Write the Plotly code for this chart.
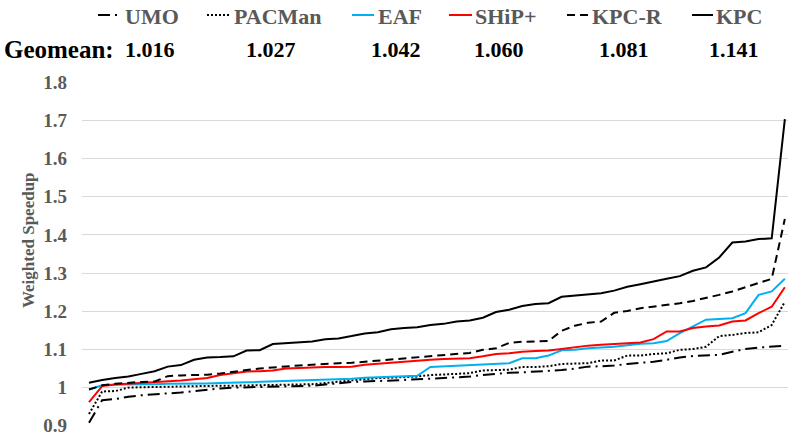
import plotly.graph_objects as go

# 54 workloads, each policy's speedups sorted in ascending order
workloads = list(range(54))

umo = [0.908, 0.967, 0.970, 0.976, 0.980, 0.983, 0.985, 0.987, 0.991, 0.995,
       0.998, 1.000, 1.001, 1.002, 1.003, 1.003, 1.004, 1.005, 1.008, 1.012,
       1.015, 1.016, 1.017, 1.018, 1.020, 1.022, 1.023, 1.025, 1.027, 1.029,
       1.033, 1.036, 1.039, 1.040, 1.042, 1.045, 1.046, 1.050, 1.055, 1.056,
       1.058, 1.062, 1.065, 1.068, 1.073, 1.079, 1.083, 1.084, 1.086, 1.094,
       1.101, 1.105, 1.107, 1.110]

pacman = [0.931, 0.990, 0.991, 1.000, 1.001, 1.002, 1.002, 1.003, 1.003, 1.004,
          1.005, 1.005, 1.006, 1.007, 1.007, 1.008, 1.008, 1.009, 1.012, 1.016,
          1.019, 1.022, 1.025, 1.026, 1.028, 1.029, 1.033, 1.034, 1.036, 1.038,
          1.045, 1.046, 1.047, 1.054, 1.054, 1.056, 1.062, 1.063, 1.064, 1.071,
          1.071, 1.084, 1.084, 1.088, 1.090, 1.099, 1.101, 1.107, 1.135, 1.138,
          1.143, 1.145, 1.164, 1.225]

eaf = [0.995, 1.006, 1.008, 1.008, 1.009, 1.009, 1.010, 1.010, 1.011, 1.011,
       1.012, 1.013, 1.014, 1.015, 1.016, 1.018, 1.019, 1.020, 1.021, 1.022,
       1.023, 1.026, 1.027, 1.028, 1.029, 1.031, 1.054, 1.056, 1.057, 1.059,
       1.060, 1.062, 1.064, 1.077, 1.077, 1.084, 1.098, 1.099, 1.103, 1.105,
       1.107, 1.111, 1.115, 1.116, 1.122, 1.143, 1.160, 1.178, 1.180, 1.182,
       1.195, 1.243, 1.252, 1.285]

ship_plus = [0.962, 1.004, 1.008, 1.010, 1.012, 1.014, 1.016, 1.019, 1.022, 1.025,
             1.033, 1.037, 1.042, 1.043, 1.045, 1.050, 1.052, 1.053, 1.054, 1.054,
             1.055, 1.060, 1.063, 1.066, 1.069, 1.071, 1.073, 1.075, 1.076, 1.077,
             1.082, 1.088, 1.090, 1.094, 1.096, 1.097, 1.101, 1.105, 1.110, 1.112,
             1.114, 1.116, 1.118, 1.127, 1.147, 1.147, 1.156, 1.160, 1.163, 1.173,
             1.176, 1.195, 1.212, 1.263]

kpc_r = [0.995, 1.006, 1.010, 1.013, 1.015, 1.016, 1.030, 1.032, 1.033, 1.034,
         1.037, 1.042, 1.046, 1.050, 1.053, 1.055, 1.058, 1.060, 1.063, 1.064,
         1.065, 1.068, 1.071, 1.075, 1.078, 1.080, 1.083, 1.086, 1.088, 1.091,
         1.099, 1.103, 1.117, 1.120, 1.121, 1.122, 1.149, 1.162, 1.170, 1.173,
         1.196, 1.201, 1.208, 1.212, 1.217, 1.221, 1.227, 1.236, 1.243, 1.252,
         1.263, 1.272, 1.285, 1.442]

kpc = [1.013, 1.020, 1.025, 1.029, 1.036, 1.043, 1.055, 1.059, 1.073, 1.079,
       1.080, 1.082, 1.097, 1.098, 1.114, 1.117, 1.119, 1.121, 1.127, 1.129,
       1.135, 1.142, 1.145, 1.153, 1.156, 1.158, 1.164, 1.167, 1.173, 1.176,
       1.183, 1.198, 1.204, 1.214, 1.219, 1.221, 1.238, 1.241, 1.245, 1.247,
       1.254, 1.264, 1.271, 1.277, 1.285, 1.292, 1.306, 1.315, 1.341, 1.380,
       1.383, 1.389, 1.391, 1.703]

series_names = ["UMO", "PACMan", "EAF", "SHiP+", "KPC-R", "KPC"]
geomeans = ["1.016", "1.027", "1.042", "1.060", "1.081", "1.141"]

y_tick_vals = [0.9, 1.0, 1.1, 1.2, 1.3, 1.4, 1.5, 1.6, 1.7, 1.8]
y_tick_text = ["0.9", "1", "1.1", "1.2", "1.3", "1.4", "1.5", "1.6", "1.7", "1.8"]

# ---- styling ----
W, H = 788, 438
M_L, M_R, M_T, M_B = 82, 0, 82, 12
PLOT_W = W - M_L - M_R
PLOT_H = H - M_T - M_B
SERIF = "Liberation Serif, Times New Roman, serif"
GRAY_TEXT = "#595959"

styles = [
    dict(color="black", width=2, dash="12px,5px,2px,5px"),   # UMO
    dict(color="black", width=2, dash="2px,2px"),            # PACMan
    dict(color="#00B0F0", width=2, dash="solid"),            # EAF
    dict(color="#FF0000", width=2, dash="solid"),            # SHiP+
    dict(color="black", width=2, dash="8px,5px"),            # KPC-R
    dict(color="black", width=2, dash="solid"),              # KPC
]

all_series = [umo, pacman, eaf, ship_plus, kpc_r, kpc]

fig = go.Figure()
for name, ys, st in zip(series_names, all_series, styles):
    fig.add_trace(go.Scatter(x=workloads, y=ys, mode="lines", name=name,
                             line=st, showlegend=False))


def px_x(px):
    return (px - M_L) / PLOT_W


def px_y(py):
    return (H - M_B - py) / PLOT_H


# legend row: symbol start, symbol end, text left (pixels)
legend_slots = [(98, 120, 123), (207, 230, 232), (352, 374, 376),
                (449, 472, 473), (567, 588, 590), (692, 713, 714)]
LEG_Y = 15
shapes = []
annotations = []
for name, st, (s0, s1, tx) in zip(series_names, styles, legend_slots):
    shapes.append(dict(type="line", xref="paper", yref="paper",
                       x0=px_x(s0), x1=px_x(s1), y0=px_y(LEG_Y), y1=px_y(LEG_Y),
                       line=st))
    annotations.append(dict(xref="paper", yref="paper", x=px_x(tx), y=px_y(LEG_Y + 1),
                            xanchor="left", yanchor="middle", showarrow=False,
                            text=f"<b>{name}</b>",
                            font=dict(family=SERIF, size=22, color=GRAY_TEXT)))

# geomean row
GM_Y = 49
annotations.append(dict(xref="paper", yref="paper", x=px_x(2), y=px_y(GM_Y),
                        xanchor="left", yanchor="middle", showarrow=False,
                        text="<b>Geomean:</b>",
                        font=dict(family=SERIF, size=25, color="black")))
gm_centers = [150, 271, 396, 499, 624, 734]
for g, cx in zip(geomeans, gm_centers):
    annotations.append(dict(xref="paper", yref="paper", x=px_x(cx), y=px_y(GM_Y),
                            xanchor="center", yanchor="middle", showarrow=False,
                            text=f"<b>{g}</b>",
                            font=dict(family=SERIF, size=22, color="black")))

# y-axis title
annotations.append(dict(xref="paper", yref="paper", x=px_x(28), y=px_y(240),
                        xanchor="center", yanchor="middle", showarrow=False,
                        textangle=-90, text="<b>Weighted Speedup</b>",
                        font=dict(family=SERIF, size=17, color=GRAY_TEXT)))

n = len(workloads)
fig.update_layout(
    width=W, height=H,
    margin=dict(l=M_L, r=M_R, t=M_T, b=M_B, pad=0),
    paper_bgcolor="white", plot_bgcolor="white",
    shapes=shapes, annotations=annotations,
    xaxis=dict(range=[-0.533, n - 1 + 0.24], showgrid=False, zeroline=False,
               showticklabels=False, showline=False, ticks=""),
    yaxis=dict(range=[0.8995, 1.8005], tickvals=y_tick_vals, ticktext=y_tick_text,
               showgrid=True, gridcolor="#D9D9D9", gridwidth=1.3,
               zeroline=False, showline=False, ticks="",
               ticklabelstandoff=14,
               tickfont=dict(family=SERIF, size=19, color=GRAY_TEXT, weight="bold")),
)

fig.write_html("out.html")
